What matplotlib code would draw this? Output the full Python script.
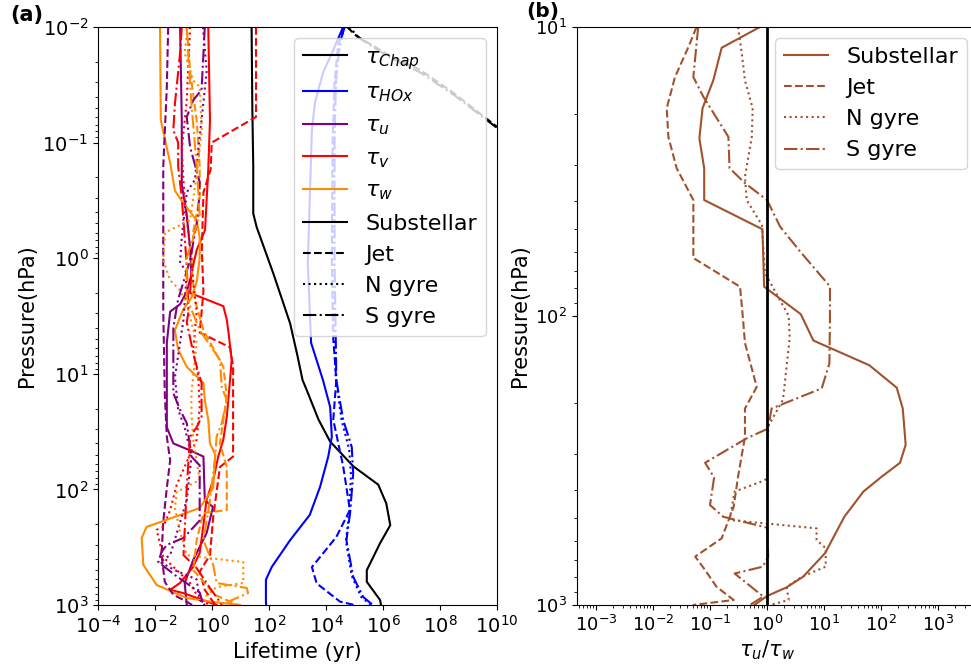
import matplotlib
matplotlib.use("Agg")
import matplotlib.pyplot as plt
from matplotlib.lines import Line2D

# ---------------- Panel (a): lifetimes (yr) vs pressure (hPa) ----------------
# Chapman lifetime
chap_sub_p = [0.01, 0.05, 0.16, 0.41, 0.54, 1.35, 3.66, 7.0, 11.3, 13.8, 25, 38.6, 63, 91, 132, 204, 292, 500, 630, 905, 1000]
chap_sub_x = [24.5, 26, 28, 28, 37, 141, 550, 1.0e3, 1.5e3, 2.1e3, 5.5e3, 1.4e4, 9e4, 6.8e5, 1.3e6, 1.8e6, 7.9e5, 2.7e5, 2.7e5, 7.9e5, 8.5e5]
chap_jet_p = [0.0085, 0.01, 0.012, 0.017, 0.0235, 0.037, 0.073, 0.2]
chap_jet_x = [3e4, 5.5e4, 1.2e5, 1.3e6, 2e7, 2.9e8, 1e10, 1e13]
chap_sg_p = [0.0085, 0.01, 0.0125, 0.018, 0.025, 0.039, 0.076, 0.2]
chap_sg_x = [3.5e4, 6.5e4, 1.5e5, 1.5e6, 2.2e7, 3.2e8, 1.1e10, 1e13]

# HOx lifetime
hox_sub_p = [0.01, 0.0158, 0.025, 0.045, 0.078, 1.1, 5.4, 11.3, 19.4, 35, 52, 95, 166, 275, 470, 605, 956, 1000]
hox_sub_x = [4e4, 1.8e4, 7.8e3, 4.1e3, 3.2e3, 2.3e3, 3e3, 7.8e3, 1.4e4, 1.6e4, 1.2e4, 6.2e3, 2.7e3, 550, 124, 78, 78, 80]
hox_jet_p = [0.01, 0.015, 0.03, 0.1, 1, 5, 11.3, 25, 63, 151, 258, 470, 650, 935, 1000]
hox_jet_x = [4e4, 2.6e4, 2e4, 1.7e4, 1.6e4, 1.8e4, 2.3e4, 1.8e4, 4e4, 6.9e4, 2.3e4, 3.2e3, 4.7e3, 3.1e4, 1e5]
hox_ng_p = [0.01, 0.02, 0.1, 1, 5, 11, 25, 45, 75, 160, 280, 560, 850, 1000]
hox_ng_x = [4.2e4, 2.5e4, 1.8e4, 1.8e4, 2e4, 2.2e4, 3.5e4, 6.5e4, 7.5e4, 6.5e4, 5e4, 8e4, 1.7e5, 3.8e5]
hox_sg_p = [0.01, 0.014, 0.03, 0.1, 1, 5, 11.3, 25, 43, 73, 160, 275, 570, 850, 1000]
hox_sg_x = [4.5e4, 3e4, 2.2e4, 2e4, 2e4, 2.2e4, 2.3e4, 4e4, 8e4, 9e4, 7e4, 5.2e4, 9e4, 2e5, 4.4e5]

# tau_u (purple)
u_sub_p = [0.01, 0.064, 0.23, 0.42, 0.82, 1.4, 1.95, 2.5, 2.9, 5.4, 29, 40, 46, 52, 124, 142, 238, 407, 645, 1000]
u_sub_x = [0.076, 0.087, 0.087, 0.13, 0.17, 0.19, 0.13, 0.076, 0.034, 0.026, 0.026, 0.044, 0.17, 0.5, 0.56, 1.08, 0.65, 0.22, 0.11, 0.13]
u_jet_p = [0.01, 0.033, 0.16, 2.9, 14.7, 35, 56, 97, 190, 370, 630, 815, 935, 1000]
u_jet_x = [0.029, 0.026, 0.0195, 0.0195, 0.022, 0.026, 0.034, 0.026, 0.0195, 0.017, 0.022, 0.044, 0.13, 0.2]
u_ng_p = [0.01, 0.024, 0.064, 0.21, 0.27, 0.66, 1.08, 1.34, 3.4, 10.7, 20.5, 29, 52, 124, 370, 425, 500, 600, 906, 1000]
u_ng_x = [0.48, 0.65, 0.43, 0.25, 0.13, 0.087, 0.076, 0.13, 0.1, 0.05, 0.065, 0.11, 0.19, 0.13, 0.034, 0.015, 0.05, 0.29, 0.37, 0.56]
u_sg_p = [0.01, 0.035, 0.043, 0.06, 0.109, 0.22, 0.42, 1.04, 2.3, 4.0, 14.7, 20.5, 26.7, 52, 62, 186, 263, 302, 347, 425, 550, 780, 1000]
u_sg_x = [0.56, 0.43, 0.22, 0.13, 0.17, 0.37, 0.33, 0.17, 0.064, 0.044, 0.044, 0.076, 0.13, 0.19, 0.37, 0.37, 0.1, 0.026, 0.017, 0.013, 0.05, 0.37, 0.5]

# tau_v (red)
v_sub_p = [0.01, 0.064, 0.17, 0.57, 0.85, 1.34, 2.0, 2.15, 2.6, 3.4, 4.4, 7.6, 11.3, 23.6, 37, 52, 83, 124, 211, 355, 470, 645, 740, 787, 906, 1000]
v_sub_x = [0.74, 0.85, 0.74, 0.57, 0.29, 0.19, 0.17, 0.36, 2.5, 3.3, 3.8, 4.9, 4.3, 3.3, 2.5, 1.66, 1.1, 0.64, 0.49, 0.37, 0.215, 0.075, 0.034, 0.096, 0.47, 1.45]
v_jet_p = [0.01, 0.06, 0.1, 0.17, 0.27, 0.85, 1.95, 4.4, 5.9, 8.7, 20.5, 52, 64, 174, 370, 515, 740, 1000]
v_jet_x = [35, 35, 0.98, 0.9, 0.5, 0.44, 0.5, 0.37, 4.3, 5.5, 5.5, 5.5, 1.9, 1.1, 0.85, 0.37, 0.56, 1.3]
v_ng_p = [0.01, 0.043, 0.116, 0.32, 1.0, 1.6, 2.9, 6.2, 10.7, 19.4, 37, 91, 151, 211, 224, 385, 645, 906, 1000]
v_ng_x = [0.17, 0.13, 0.087, 0.11, 0.19, 0.22, 0.29, 0.22, 0.33, 0.37, 0.29, 0.058, 0.034, 0.0195, 0.0114, 0.0195, 0.17, 0.37, 0.85]
v_sg_p = [0.01, 0.0168, 0.046, 0.078, 0.1, 0.16, 0.3, 1.15, 2.9, 3.6, 7.6, 12, 23.6, 29, 35, 97, 370, 480, 713, 942, 1000]
v_sg_x = [0.087, 0.076, 0.05, 0.044, 0.065, 0.065, 0.087, 0.13, 0.15, 0.13, 0.25, 0.43, 0.43, 0.29, 0.17, 0.13, 0.1, 0.29, 0.85, 1.9, 2.2]

# tau_w (orange)
w_sub_p = [0.01, 0.064, 0.15, 0.26, 0.32, 0.47, 0.66, 1.0, 1.6, 2.2, 2.8, 4.2, 6.2, 8.7, 12, 16.9, 25, 40, 50, 97, 145, 211, 263, 450, 671, 870, 942, 1000]
w_sub_x = [0.015, 0.016, 0.034, 0.05, 0.087, 0.29, 0.37, 0.37, 0.29, 0.19, 0.096, 0.05, 0.065, 0.13, 0.5, 0.56, 0.74, 0.85, 1.3, 1.1, 0.37, 0.0051, 0.0034, 0.0039, 0.0114, 0.13, 1.1, 9.6]
w_jet_p = [0.01, 0.024, 0.064, 0.16, 0.3, 0.59, 1.15, 2.3, 4.2, 8.7, 15.8, 40, 64, 151, 160, 275, 500, 820, 1000]
w_jet_x = [0.13, 0.17, 0.29, 0.37, 0.37, 0.22, 0.19, 0.25, 0.5, 2.5, 3.3, 1.9, 3.3, 3.3, 0.5, 0.29, 0.22, 1.3, 8.0]
w_ng_p = [0.01, 0.0168, 0.029, 0.033, 0.078, 0.19, 0.47, 0.6, 1.04, 1.55, 1.9, 2.5, 5.4, 14.7, 22, 37, 83, 105, 145, 234, 370, 390, 425, 645, 700, 820, 1000]
w_ng_x = [0.14, 0.11, 0.22, 0.37, 0.44, 0.29, 0.17, 0.0225, 0.0195, 0.034, 0.076, 0.13, 0.29, 0.19, 0.19, 0.22, 0.37, 0.058, 0.05, 0.076, 0.13, 0.65, 12.5, 12.5, 1.45, 0.65, 0.56]
w_sg_p = [0.01, 0.019, 0.046, 0.16, 0.42, 1.0, 2.2, 4.2, 6.2, 7.6, 13, 16.9, 26.7, 35, 52, 124, 275, 450, 645, 713, 787, 923, 1000]
w_sg_x = [0.13, 0.15, 0.19, 0.29, 0.37, 0.13, 0.13, 0.37, 1.1, 1.9, 2.2, 3.3, 2.2, 1.45, 1.3, 0.85, 0.5, 1.1, 1.45, 16.5, 18.5, 4.3, 1.9]

# ---------------- Panel (b): tau_u / tau_w ----------------
r_sub_p = [10, 11.8, 15.3, 19.1, 24.3, 30.8, 39.7, 50.1, 79.2, 98.5, 121.6, 148, 177, 209, 279, 322, 360, 405, 495, 662, 798, 869, 931, 1000]
r_sub_x = [0.75, 0.16, 0.114, 0.074, 0.065, 0.079, 0.079, 0.83, 0.89, 3.9, 6.5, 62, 188, 240, 270, 215, 102, 49, 22.7, 10.4, 4.3, 2.2, 1.0, 0.6]
r_jet_p = [10, 11.7, 14.9, 19.1, 24, 30.8, 39.7, 63, 79.2, 103, 124, 176, 209, 262, 360, 457, 588, 680, 757, 865, 961, 1000]
r_jet_x = [0.058, 0.042, 0.0243, 0.0174, 0.0186, 0.026, 0.051, 0.051, 0.336, 0.38, 0.41, 0.66, 0.41, 0.41, 0.31, 0.26, 0.16, 0.055, 0.082, 0.13, 0.26, 0.05]
r_ng_p = [10, 12.3, 15.3, 19.1, 24, 33, 39.7, 48.4, 71, 100, 119, 195, 241, 365, 372, 405, 508, 543, 596, 636, 737, 798, 865, 961, 1000]
r_ng_x = [0.31, 0.36, 0.41, 0.56, 0.54, 0.41, 0.44, 0.81, 0.92, 2.4, 2.5, 1.9, 1.05, 1.0, 0.86, 0.27, 0.22, 7.4, 7.4, 10.7, 10.7, 4.1, 2.2, 2.4, 1.13]
r_sg_p = [10, 14.9, 17.4, 24, 30.8, 34.7, 39.7, 49.1, 59.8, 79, 103, 146, 178, 209, 245, 265, 322, 362, 451, 495, 540, 680, 737, 778, 935, 1000]
r_sg_x = [0.062, 0.051, 0.076, 0.21, 0.22, 0.41, 1.0, 1.7, 3.8, 12.7, 12.7, 12.4, 9.1, 1.2, 1.05, 0.44, 0.082, 0.118, 0.1, 0.17, 1.0, 1.05, 0.84, 0.27, 0.86, 0.5]

# ---------------- Plot ----------------
plt.rcParams['font.family'] = ['DejaVu Sans']
fig = plt.figure(figsize=(9.71, 6.68), dpi=100)
axa = fig.add_axes([98 / 971, 1 - 605 / 668, (497 - 98) / 971, (605 - 27) / 668])
axb = fig.add_axes([577 / 971, 1 - 605 / 668, (978 - 577) / 971, (605 - 27) / 668])

C_CHAP, C_HOX, C_U, C_V, C_W = 'black', 'blue', 'purple', 'red', 'darkorange'
lw = 1.5

series = [
    (chap_sub_x, chap_sub_p, C_CHAP, '-'),
    (hox_sub_x, hox_sub_p, C_HOX, '-'),
    (u_sub_x, u_sub_p, C_U, '-'),
    (v_sub_x, v_sub_p, C_V, '-'),
    (w_sub_x, w_sub_p, C_W, '-'),
    (chap_jet_x, chap_jet_p, C_CHAP, '--'),
    (hox_jet_x, hox_jet_p, C_HOX, '--'),
    (u_jet_x, u_jet_p, C_U, '--'),
    (v_jet_x, v_jet_p, C_V, '--'),
    (w_jet_x, w_jet_p, C_W, '--'),
    (hox_ng_x, hox_ng_p, C_HOX, ':'),
    (u_ng_x, u_ng_p, C_U, ':'),
    (v_ng_x, v_ng_p, C_V, ':'),
    (w_ng_x, w_ng_p, C_W, ':'),
    (chap_sg_x, chap_sg_p, C_CHAP, '-.'),
    (hox_sg_x, hox_sg_p, C_HOX, '-.'),
    (u_sg_x, u_sg_p, C_U, '-.'),
    (v_sg_x, v_sg_p, C_V, '-.'),
    (w_sg_x, w_sg_p, C_W, '-.'),
]
for x, p, c, ls in series:
    axa.plot(x, p, color=c, ls=ls, lw=lw)

axa.set_xscale('log')
axa.set_yscale('log')
axa.set_xlim(1e-4, 1e10)
axa.set_ylim(1e3, 1e-2)
axa.set_xticks([1e-4, 1e-2, 1e0, 1e2, 1e4, 1e6, 1e8, 1e10])
axa.set_xlabel('Lifetime (yr)', fontsize=15)
axa.set_ylabel('Pressure(hPa)', fontsize=15)
axa.tick_params(labelsize=14)

handles = [
    Line2D([], [], color=C_CHAP, lw=lw, label=r'$\tau_{Chap}$'),
    Line2D([], [], color=C_HOX, lw=lw, label=r'$\tau_{HOx}$'),
    Line2D([], [], color=C_U, lw=lw, label=r'$\tau_{u}$'),
    Line2D([], [], color=C_V, lw=lw, label=r'$\tau_{v}$'),
    Line2D([], [], color=C_W, lw=lw, label=r'$\tau_{w}$'),
    Line2D([], [], color='black', ls='-', lw=lw, label='Substellar'),
    Line2D([], [], color='black', ls='--', lw=lw, label='Jet'),
    Line2D([], [], color='black', ls=':', lw=lw, label='N gyre'),
    Line2D([], [], color='black', ls='-.', lw=lw, label='S gyre'),
]
axa.legend(handles=handles, loc='upper right', fontsize=16)

C_R = 'sienna'
axb.plot(r_sub_x, r_sub_p, color=C_R, ls='-', lw=lw, label='Substellar')
axb.plot(r_jet_x, r_jet_p, color=C_R, ls='--', lw=lw, label='Jet')
axb.plot(r_ng_x, r_ng_p, color=C_R, ls=':', lw=lw, label='N gyre')
axb.plot(r_sg_x, r_sg_p, color=C_R, ls='-.', lw=lw, label='S gyre')
axb.axvline(1.0, color='black', lw=2)
axb.set_xscale('log')
axb.set_yscale('log')
axb.set_xlim(10 ** -3.333, 10 ** 3.70)
axb.set_ylim(1e3, 1e1)
axb.set_xticks([1e-3, 1e-2, 1e-1, 1e0, 1e1, 1e2, 1e3])
axb.set_xlabel(r'$\tau_u/\tau_w$', fontsize=15)
axb.xaxis.set_label_coords((767 - 577) / (978 - 577), -0.058)
axb.set_ylabel('Pressure(hPa)', fontsize=15)
axb.tick_params(labelsize=13)
axb.legend(loc='upper right', fontsize=16)

fig.text(10 / 971, 1 - 15 / 668, '(a)', fontsize=15, fontweight='bold', va='center', ha='left')
fig.text(526 / 971, 1 - 12 / 668, '(b)', fontsize=14.5, fontweight='bold', va='center', ha='left')

fig.savefig('out.png', dpi=100)
